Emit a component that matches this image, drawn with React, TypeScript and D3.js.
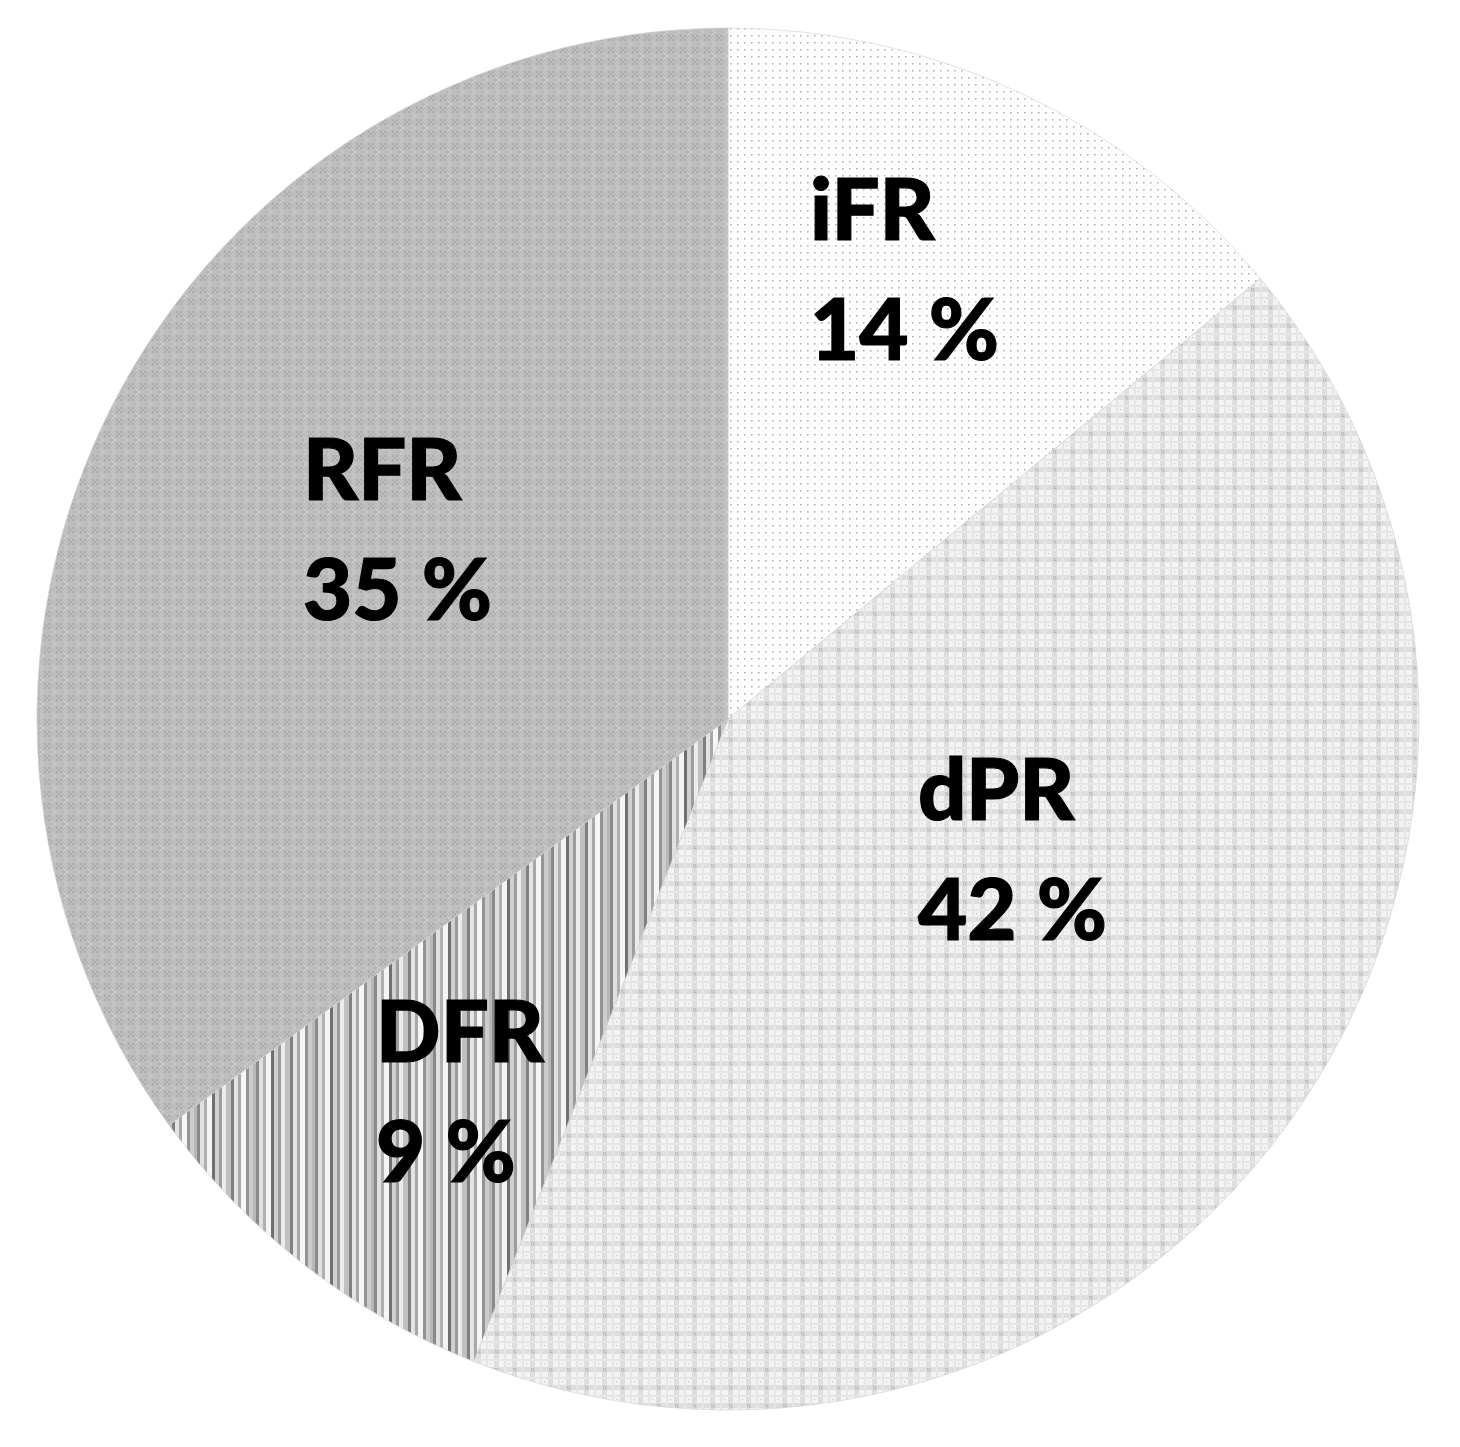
import React from "react";
import * as d3 from "d3";

const categories = ["iFR", "dPR", "DFR", "RFR"];
const values = [14, 42, 9, 35];
const labelText = ["14 %", "42 %", "9 %", "35 %"];

const W = 1460;
const H = 1447;
const CX = 728;
const CY = 719;
const R = 691;

const labelPos: Record<string, [number, number]> = {
  iFR: [810, 240],
  dPR: [918, 820],
  DFR: [376, 1062],
  RFR: [303, 500],
};

const fills: Record<string, string> = {
  iFR: "url(#pIFR)",
  dPR: "url(#pDPR)",
  DFR: "url(#pDFR)",
  RFR: "url(#pRFR)",
};

const stripeGrays = ["#8a8a8a", "#e0e0e0", "#b0b0b0", "#f4f4f4", "#707070", "#d0d0d0", "#9c9c9c", "#ececec", "#c0c0c0", "#808080", "#e4e4e4", "#a8a8a8", "#f6f6f6", "#949494", "#cccccc", "#b8b8b8"];
const stripeW = [3, 4, 3, 5, 3, 4, 3, 4, 5, 3, 4, 3, 5, 3, 4, 3];

export default function App() {
  const data = categories.map((c, i) => ({ c, v: values[i], t: labelText[i] }));
  const pie = d3.pie<any>().value((d) => d.v).sort(null);
  const arcs = pie(data);
  const arc = d3.arc<any>().innerRadius(0).outerRadius(R);
  const stripeX = d3.cumsum([0, ...stripeW]);
  const stripeTotal = d3.sum(stripeW);

  return (
    <svg width={W} height={H} style={{ position: "absolute", left: 0, top: 0, background: "#fff" }}>
      <defs>
        <pattern id="pIFR" width="7" height="7" patternUnits="userSpaceOnUse">
          <rect width="7" height="7" fill="#ffffff" />
          <rect x="2" y="2" width="1.6" height="1.6" fill="#b4b4b4" />
          <rect x="5.5" y="5.5" width="1" height="1" fill="#e0e0e0" />
        </pattern>
        <pattern id="pDPR" width="18" height="18" patternUnits="userSpaceOnUse">
          <rect width="18" height="18" fill="#f3f3f3" />
          <rect x="0" y="0" width="18" height="5" fill="#dedede" />
          <rect x="0" y="0" width="5" height="18" fill="#dedede" />
          <rect x="10" y="0" width="2" height="18" fill="#e6e6e6" />
          <rect x="0" y="10" width="18" height="2" fill="#e6e6e6" />
          <rect x="1" y="1" width="1.5" height="1.5" fill="#b0b0b0" />
          <rect x="3" y="3" width="1.5" height="1.5" fill="#b0b0b0" />
          <rect x="3" y="1" width="1.5" height="1.5" fill="#c0c0c0" />
          <rect x="1" y="3" width="1.5" height="1.5" fill="#c0c0c0" />
          <rect x="14" y="14" width="1.2" height="1.2" fill="#cfcfcf" />
        </pattern>
        <pattern id="pDFR" width={stripeTotal} height="10" patternUnits="userSpaceOnUse">
          {stripeGrays.map((g, i) => (
            <rect key={i} x={stripeX[i]} y={0} width={stripeW[i]} height={10} fill={g} />
          ))}
        </pattern>
        <pattern id="pRFR" width="12" height="12" patternUnits="userSpaceOnUse">
          <rect width="12" height="12" fill="#bebebe" />
          <rect x="0" y="0" width="2" height="2" fill="#adadad" />
          <rect x="4" y="0" width="2" height="2" fill="#adadad" />
          <rect x="2" y="2" width="2" height="2" fill="#adadad" />
          <rect x="6" y="2" width="2" height="2" fill="#b4b4b4" />
          <rect x="0" y="4" width="2" height="2" fill="#adadad" />
          <rect x="4" y="4" width="2" height="2" fill="#adadad" />
          <rect x="8" y="6" width="2" height="2" fill="#c8c8c8" />
          <rect x="10" y="8" width="2" height="2" fill="#c8c8c8" />
          <rect x="8" y="10" width="2" height="2" fill="#c8c8c8" />
          <rect x="6" y="8" width="2" height="2" fill="#b6b6b6" />
        </pattern>
      </defs>
      <g transform={`translate(${CX},${CY})`}>
        {arcs.map((a, i) => (
          <path key={i} d={arc(a) as string} fill={fills[a.data.c]} stroke="#d0d0d0" strokeWidth={0.6} />
        ))}
      </g>
      {arcs.map((a, i) => {
        const [x, y] = labelPos[a.data.c];
        return (
          <text key={i} x={x} y={y} fontFamily="Lato, 'Open Sans', sans-serif" fontWeight="900" fontSize={85} fill="#000" stroke="#000" strokeWidth={1.2}>
            <tspan x={x} y={y}>{a.data.c}</tspan>
            <tspan x={x} y={y + 120}>{a.data.t}</tspan>
          </text>
        );
      })}
    </svg>
  );
}
